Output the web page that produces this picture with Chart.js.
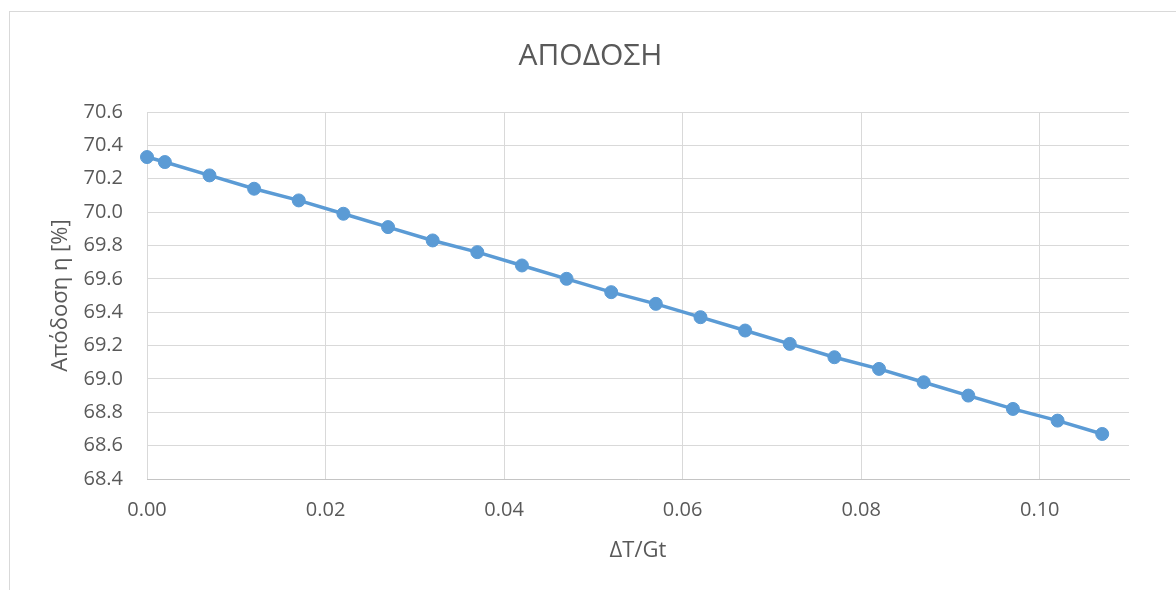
<!DOCTYPE html>
<html>
<head>
<meta charset="utf-8">
<script src="https://cdn.jsdelivr.net/npm/chart.js@4/dist/chart.umd.min.js"></script>
<style>
  html, body { margin: 0; padding: 0; background: #fff; }
  #frame { position: absolute; left: 9px; top: 11px; width: 1200px; height: 600px; border: 1px solid #d9d9d9; }
  #wrap { position: absolute; left: 0; top: 0; width: 1176px; height: 590px; }
</style>
</head>
<body>
<div id="frame"></div>
<div id="wrap"><canvas id="chart" width="1176" height="590"></canvas></div>
<script>
// chart text
var chartTitle = 'ΑΠΟΔΟΣΗ';
var xTitle = 'ΔΤ/Gt';
var yTitle = 'Απόδοση η [%]';

// series
var xValues = [0, 0.002, 0.007, 0.012, 0.017, 0.022, 0.027, 0.032, 0.037, 0.042, 0.047, 0.052,
               0.057, 0.062, 0.067, 0.072, 0.077, 0.082, 0.087, 0.092, 0.097, 0.102, 0.107];
var yValues = [70.33, 70.30, 70.22, 70.14, 70.07, 69.99, 69.91, 69.83, 69.76, 69.68, 69.60, 69.52,
               69.45, 69.37, 69.29, 69.21, 69.13, 69.06, 68.98, 68.90, 68.82, 68.75, 68.67];

// axis ranges / ticks
var xRange = [0, 0.11], xStep = 0.02;
var yRange = [68.4, 70.6], yStep = 0.2;

var points = xValues.map(function(x, i) { return { x: x, y: yValues[i] }; });

var txt = '#595959';
var gridCol = '#d9d9d9';
var fam = "'Open Sans', sans-serif";

new Chart(document.getElementById('chart'), {
  type: 'scatter',
  data: {
    datasets: [{
      data: points,
      showLine: true,
      borderColor: '#5b9bd5',
      backgroundColor: '#5b9bd5',
      borderWidth: 3.5,
      pointRadius: 6.5,
      pointBorderWidth: 1,
      pointHoverRadius: 6.5,
      clip: false
    }]
  },
  options: {
    responsive: false,
    animation: false,
    layout: { padding: { left: 52, right: 47, top: 0, bottom: 0 } },
    plugins: {
      legend: { display: false },
      tooltip: { enabled: false },
      title: {
        display: true,
        text: chartTitle,
        color: txt,
        font: { family: fam, size: 30, weight: 'normal', lineHeight: 1.2 },
        padding: { top: 38, bottom: 38 }
      }
    },
    scales: {
      x: {
        type: 'linear',
        min: xRange[0],
        max: xRange[1],
        afterFit: function(scale) { scale.height = 111; },
        grid: { color: gridCol, drawTicks: false },
        border: { color: '#c4c4c4', width: 1 },
        ticks: {
          stepSize: xStep,
          includeBounds: false,
          padding: 19,
          color: txt,
          font: { family: fam, size: 20 },
          callback: function(v) { return v.toFixed(2); }
        },
        title: {
          display: true,
          text: xTitle,
          color: txt,
          font: { family: fam, size: 22 },
          padding: { top: 0, bottom: 26 }
        }
      },
      y: {
        min: yRange[0],
        max: yRange[1],
        afterFit: function(scale) { scale.width = 95; },
        grid: { color: gridCol, drawTicks: false },
        border: { display: false },
        ticks: {
          stepSize: yStep,
          padding: 24,
          color: txt,
          font: { family: fam, size: 20 },
          callback: function(v) { return v.toFixed(1); }
        },
        title: {
          display: true,
          text: yTitle,
          color: txt,
          font: { family: fam, size: 22, lineHeight: 0.8 },
          padding: 0
        }
      }
    }
  }
});
</script>
</body>
</html>
